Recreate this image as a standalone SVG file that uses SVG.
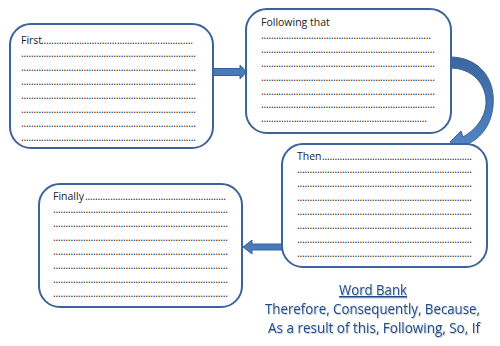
<svg xmlns="http://www.w3.org/2000/svg" width="500" height="346" viewBox="0 0 500 346">
<defs>
<style>
.box{fill:#fff;stroke:#3d6399;stroke-width:2}
.lbl{font-family:"Open Sans",Lato,"Liberation Sans",sans-serif;font-size:10.5px;fill:#222}
.dot{font-family:"Open Sans","Liberation Sans",sans-serif;font-size:10.5px;fill:#222}
.arr{fill:#4a7bb9;stroke:#3a629c;stroke-width:1}
.wb{font-family:"Open Sans",Lato,"Liberation Sans",sans-serif;font-size:14.5px;fill:#1f4d8c}
</style>
<linearGradient id="cg" x1="0" y1="0" x2="0" y2="1">
<stop offset="0" stop-color="#3b679f"/>
<stop offset="0.5" stop-color="#4575b2"/>
<stop offset="1" stop-color="#5288c6"/>
</linearGradient>
<filter id="sh" x="-5%" y="-20%" width="110%" height="140%"><feDropShadow dx="0.8" dy="0.8" stdDeviation="0.5" flood-color="#000" flood-opacity="0.25"/></filter>
</defs>
<rect width="500" height="346" fill="#fff"/>
<g id="connectors">
<path class="arr" d="M213,68.5 L240,68.5 L240,65 L246.5,72 L240,79 L240,75.5 L213,75.5 Z"/>
<path class="arr" d="M282,244 L252,244 L252,240 L243,247 L252,254 L252,250 L282,250 Z"/>
<path class="arr" fill="url(#cg)" style="fill:url(#cg)" d="M450,57 C478,57 496,78 493,106 C491,127 479,140 465,145 L466,152 L450,142 L461,131 L463,137 C474,131 485,119 486,104 C487,84 472,68 450,68 Z"/>
</g>
<g id="node-first">
<rect class="box" x="10" y="24" width="203" height="124" rx="21"/>
<text class="lbl" x="21" y="44">First</text>
<text class="dot" x="41" y="44" textLength="152" lengthAdjust="spacing">............................................................</text>
<text class="dot" x="21" y="57" textLength="175" lengthAdjust="spacing">......................................................................</text>
<text class="dot" x="21" y="71" textLength="175" lengthAdjust="spacing">......................................................................</text>
<text class="dot" x="21" y="85" textLength="175" lengthAdjust="spacing">......................................................................</text>
<text class="dot" x="21" y="99" textLength="175" lengthAdjust="spacing">......................................................................</text>
<text class="dot" x="21" y="113" textLength="175" lengthAdjust="spacing">......................................................................</text>
<text class="dot" x="21" y="127" textLength="175" lengthAdjust="spacing">......................................................................</text>
<text class="dot" x="21" y="141" textLength="175" lengthAdjust="spacing">......................................................................</text>
</g>
<g id="node-following">
<rect class="box" x="246" y="9" width="205" height="124" rx="21"/>
<text class="lbl" x="261" y="26">Following that</text>
<text class="dot" x="261" y="39" textLength="170" lengthAdjust="spacing">....................................................................</text>
<text class="dot" x="261" y="53" textLength="174" lengthAdjust="spacing">......................................................................</text>
<text class="dot" x="261" y="67" textLength="174" lengthAdjust="spacing">......................................................................</text>
<text class="dot" x="261" y="81" textLength="174" lengthAdjust="spacing">......................................................................</text>
<text class="dot" x="261" y="95" textLength="174" lengthAdjust="spacing">......................................................................</text>
<text class="dot" x="261" y="108" textLength="174" lengthAdjust="spacing">......................................................................</text>
<text class="dot" x="261" y="122" textLength="166" lengthAdjust="spacing">..................................................................</text>
</g>
<g id="node-then">
<rect class="box" x="282" y="144" width="205" height="123" rx="21"/>
<text class="lbl" x="297" y="160">Then</text>
<text class="dot" x="322" y="160" textLength="150" lengthAdjust="spacing">............................................................</text>
<text class="dot" x="297" y="173" textLength="175" lengthAdjust="spacing">......................................................................</text>
<text class="dot" x="297" y="187" textLength="175" lengthAdjust="spacing">......................................................................</text>
<text class="dot" x="297" y="201" textLength="175" lengthAdjust="spacing">......................................................................</text>
<text class="dot" x="297" y="215" textLength="175" lengthAdjust="spacing">......................................................................</text>
<text class="dot" x="297" y="229" textLength="175" lengthAdjust="spacing">......................................................................</text>
<text class="dot" x="297" y="243" textLength="175" lengthAdjust="spacing">......................................................................</text>
<text class="dot" x="297" y="257" textLength="175" lengthAdjust="spacing">......................................................................</text>
</g>
<g id="node-finally">
<rect class="box" x="39" y="184" width="203" height="123" rx="21"/>
<text class="lbl" x="53" y="200">Finally</text>
<text class="dot" x="85" y="200" textLength="141" lengthAdjust="spacing">........................................................</text>
<text class="dot" x="53" y="213" textLength="175" lengthAdjust="spacing">......................................................................</text>
<text class="dot" x="53" y="227" textLength="175" lengthAdjust="spacing">......................................................................</text>
<text class="dot" x="53" y="241" textLength="175" lengthAdjust="spacing">......................................................................</text>
<text class="dot" x="53" y="255" textLength="175" lengthAdjust="spacing">......................................................................</text>
<text class="dot" x="53" y="269" textLength="175" lengthAdjust="spacing">......................................................................</text>
<text class="dot" x="53" y="283" textLength="175" lengthAdjust="spacing">......................................................................</text>
<text class="dot" x="53" y="297" textLength="175" lengthAdjust="spacing">......................................................................</text>
</g>
<g id="word-bank" filter="url(#sh)">
<text class="wb" x="339" y="295" textLength="68" lengthAdjust="spacingAndGlyphs" text-decoration="underline">Word Bank</text>
<text class="wb" x="265" y="314" textLength="215" lengthAdjust="spacingAndGlyphs">Therefore, Consequently, Because,</text>
<text class="wb" x="268" y="333" textLength="212" lengthAdjust="spacingAndGlyphs">As a result of this, Following, So, If</text>
</g>
</svg>
